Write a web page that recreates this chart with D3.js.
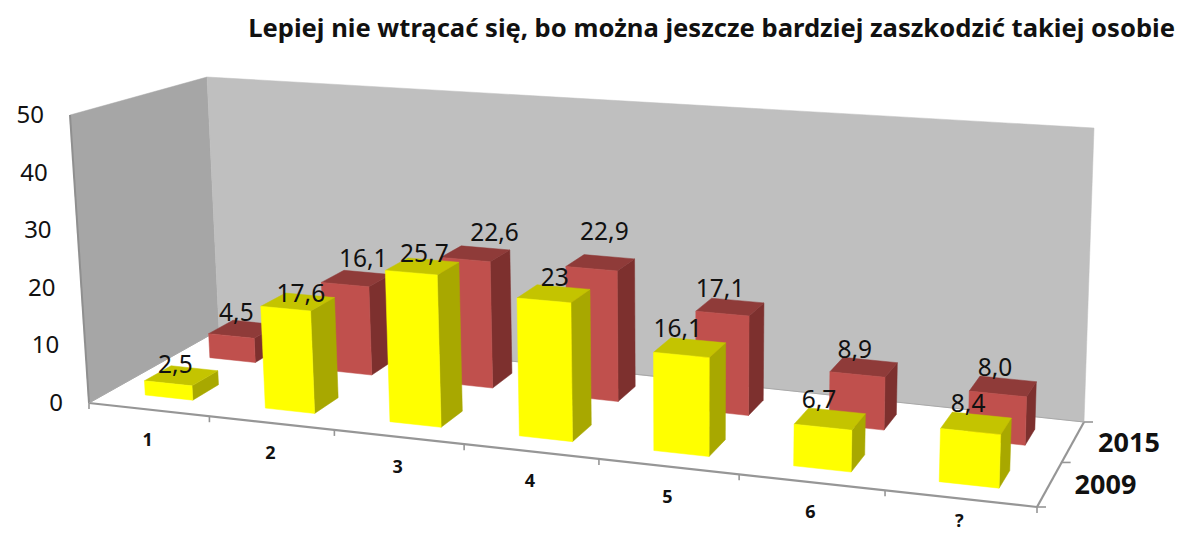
<!DOCTYPE html>
<html><head><meta charset="utf-8">
<script src="https://cdn.jsdelivr.net/npm/d3@7"></script>
<style>html,body{margin:0;background:#fff;overflow:hidden}svg{display:block}text{font-family:"Noto Sans",sans-serif;fill:#111}</style>
</head><body><svg id="c" width="1187" height="533"></svg>
<script>
const title = "Lepiej nie wtrącać się, bo można jeszcze bardziej zaszkodzić takiej osobie";
const categories = ["1","2","3","4","5","6","?"];
const seriesNames = ["2009","2015"];
const values2009 = [2.5,17.6,25.7,23,16.1,6.7,8.4];
const values2015 = [4.5,16.1,22.6,22.9,17.1,8.9,8.0];
const labels2009 = ["2,5","17,6","25,7","23","16,1","6,7","8,4"];
const labels2015 = ["4,5","16,1","22,6","22,9","17,1","8,9","8,0"];
const yTicks = [0,10,20,30,40,50];

// frame geometry: floor quad and the vector from each floor corner up to value 50
function homography(p0,p1,p2,p3){
  const dx1=p1[0]-p2[0],dx2=p3[0]-p2[0],sx=p0[0]-p1[0]+p2[0]-p3[0];
  const dy1=p1[1]-p2[1],dy2=p3[1]-p2[1],sy=p0[1]-p1[1]+p2[1]-p3[1];
  const den=dx1*dy2-dx2*dy1;
  const g=(sx*dy2-dx2*sy)/den,h=(dx1*sy-sx*dy1)/den;
  const a=p1[0]-p0[0]+g*p1[0],b=p3[0]-p0[0]+h*p3[0];
  const d=p1[1]-p0[1]+g*p1[1],e=p3[1]-p0[1]+h*p3[1];
  return (u,v)=>{const w=g*u+h*v+1;return [(a*u+b*v+p0[0])/w,(d*u+e*v+p0[1])/w];};
}
const floor=homography([89,403],[1037,507],[1084,422],[219,330]);
const upFL=[-19,-288],upFR=[11,-325],upBR=[10,-294],upBL=[-12,-253];
const warpM=.105, warp=u=>u/(1+warpM*(1-u));

// layout: hand placement of the value labels relative to each bar top, as in the reference
const nudge={
  "2009":[[-6,9],[3,12],[2,8],[1,4],[-12,1],[-11,1],[-8,1]],
  "2015":[[-7,4],[7,1],[19,-1],[4,-11],[-10,2],[-9,3],[-8,2]]
};

const xS=d3.scaleBand().domain(categories).range([0,1]).paddingInner(.6).paddingOuter(.3);
const zS=d3.scaleBand().domain(seriesNames).range([0,1]).paddingInner(.6).paddingOuter(.3);
const yS=d3.scaleLinear().domain([0,50]).range([0,1]);

function P(u,v,val){const t=yS(val),w=warp(u),A=floor(w,v);
  const up=i=>(upFL[i]*(1-w)+upFR[i]*w)*(1-v)+(upBL[i]*(1-w)+upBR[i]*w)*v;
  return [A[0]+up(0)*t,A[1]+up(1)*t];}
const svg=d3.select("#c");
const poly=(pts,fill)=>svg.append("polygon").attr("points",pts.map(p=>p.map(n=>n.toFixed(2)).join(",")).join(" ")).attr("fill",fill).attr("stroke",fill).attr("stroke-width",.5);
const line=(p,q,col,w)=>svg.append("line").attr("x1",p[0]).attr("y1",p[1]).attr("x2",q[0]).attr("y2",q[1]).attr("stroke",col).attr("stroke-width",w||2);

poly([P(0,0,0),P(0,1,0),P(0,1,50),P(0,0,50)],"#a6a6a6");
poly([P(0,1,0),P(1,1,0),P(1,1,50),P(0,1,50)],"#bfbfbf");
line(P(0,0,0),P(0,0,50),"#8f8f8f",2);
const gray="#969696";
line(P(0,0,0),P(1,0,0),gray,2.2);
line(P(1,0,0),P(1,1,0),gray,2.2);
line(P(0,1,0),P(1,1,0),"#a8a8a8",1.2);
line(P(0,0,0),P(0,1,0),"#a8a8a8",1);
d3.range(0,8).forEach(i=>{const p=P(i/7,0,0);line(p,[p[0],p[1]+6],gray,1.6);});
[0,.5,1].forEach(v=>{const p=P(1,v,0);line(p,[p[0]+9,p[1]],gray,1.6);});

const colors={"2009":["#ffff00","#c4c400","#a8a800"],"2015":["#c0504d","#8f3b39","#7d302e"]};
function bar(cat,ser,val){
  const u0=xS(cat),u1=u0+xS.bandwidth(),v0=zS(ser),v1=v0+zS.bandwidth(),col=colors[ser];
  poly([P(u1,v0,0),P(u1,v1,0),P(u1,v1,val),P(u1,v0,val)],col[2]);
  poly([P(u0,v0,val),P(u1,v0,val),P(u1,v1,val),P(u0,v1,val)],col[1]);
  poly([P(u0,v0,0),P(u1,v0,0),P(u1,v0,val),P(u0,v0,val)],col[0]);
}
categories.forEach((k,i)=>bar(k,"2015",values2015[i]));
categories.forEach((k,i)=>bar(k,"2009",values2009[i]));

function vlabel(cat,ser,val,txt,n){
  const u=xS(cat)+xS.bandwidth()/2,v=zS(ser)+zS.bandwidth()/2,p=P(u,v,val);
  svg.append("text").attr("x",p[0]+n[0]).attr("y",p[1]-12+n[1]).attr("text-anchor","middle").attr("font-size",24.5).text(txt);
}
categories.forEach((k,i)=>vlabel(k,"2015",values2015[i],labels2015[i],nudge["2015"][i]));
categories.forEach((k,i)=>vlabel(k,"2009",values2009[i],labels2009[i],nudge["2009"][i]));

yTicks.forEach(t=>{const p=P(0,0,t);svg.append("text").attr("x",p[0]-26).attr("y",p[1]+8).attr("text-anchor","end").attr("font-size",24).text(t);});
categories.forEach(k=>{const p=P(xS(k)+xS.bandwidth()/2,0,0);
  svg.append("text").attr("x",p[0]-1).attr("y",Math.min(p[1]+36,527)).attr("text-anchor","middle").attr("font-size",18).attr("font-weight",700).text(k);});
seriesNames.forEach(s=>{const p=P(1,zS(s)+zS.bandwidth()/2,0);
  svg.append("text").attr("x",p[0]+25).attr("y",p[1]+10).attr("font-size",27).attr("font-weight",700).text(s);});
svg.append("text").attr("x",1175).attr("y",37).attr("text-anchor","end").attr("font-size",25.6).attr("font-weight",700).text(title);
</script></body></html>
